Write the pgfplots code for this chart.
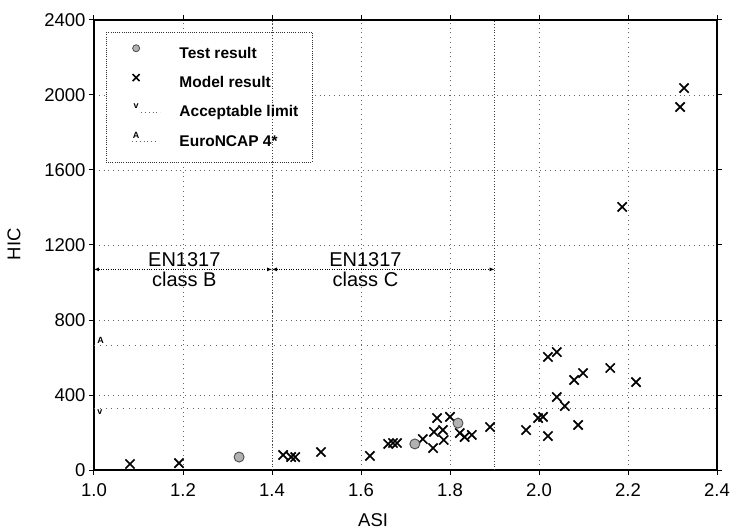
\documentclass[border=0pt]{standalone}
\usepackage{pgfplots}
\pgfplotsset{compat=1.18}
\usepackage{fontspec}
\setmainfont{Liberation Sans}
\usetikzlibrary{arrows.meta}

\begin{document}
\begin{tikzpicture}[x=1pt,y=1pt]
\useasboundingbox (0,0) rectangle (737,531);
\begin{axis}[
  at={(94pt,61pt)}, anchor=south west,
  scale only axis, width=623pt, height=450pt,
  xmin=1.0, xmax=2.4, ymin=0, ymax=2400,
  clip=false,
  xtick={1.0,1.2,1.4,1.6,1.8,2.0,2.2,2.4},
  ytick={0,400,800,1200,1600,2000,2400},
  /pgf/number format/assume math mode=true,
  xticklabel style={yshift=-5pt, /pgf/number format/.cd, fixed, fixed zerofill, precision=1},
  yticklabel style={/pgf/number format/.cd, fixed, precision=0, 1000 sep={}},
  tick label style={font=\fontsize{18.5}{18.5}\selectfont},
  tick align=outside, major tick length=5pt,
  xtick pos=both, ytick pos=both,
  axis line style={line width=1.3pt},
  major tick style={line width=1pt, black},
  grid=major,
  grid style={black!60, dash pattern=on 0.8pt off 4pt, line width=0.6pt},
  xlabel={ASI}, ylabel={HIC},
  label style={font=\fontsize{18.5}{18.5}\selectfont},
  xlabel style={at={(rel axis cs:0.448,0)}, anchor=center, yshift=-50pt},
  ylabel style={at={(rel axis cs:0,0.502)}, anchor=center, yshift=80pt},
  legend cell align=left,
  legend style={at={(rel axis cs:0.032,0.951)}, anchor=north west,
    draw=none, fill=none, inner sep=0pt, nodes={inner sep=0pt},
    column sep=19pt, row sep=12pt,
    font=\bfseries\fontsize{15.5}{15.5}\selectfont},
]
% legend frame (covers grid)
\draw[draw=black!80, fill=white, dash pattern=on 1pt off 1.2pt, line width=0.8pt]
  (rel axis cs:0.0193,0.973) rectangle (rel axis cs:0.350,0.684);

\addlegendimage{legend image code/.code={\path[draw=none,fill=none] (0pt,-1pt) rectangle (44pt,11pt);
  \draw[black!70, fill=gray!60, line width=0.8pt] (22pt,5pt) circle (3.5pt);}}
\addlegendentry{Test result}
\addlegendimage{legend image code/.code={\path[draw=none,fill=none] (0pt,-1pt) rectangle (44pt,11pt);
  \draw[black, line width=1.5pt] (18.5pt,1.5pt) -- (25.5pt,8.5pt) (18.5pt,8.5pt) -- (25.5pt,1.5pt);}}
\addlegendentry{Model result}
\addlegendimage{legend image code/.code={\path[draw=none,fill=none] (0pt,-1pt) rectangle (44pt,11pt);
  \node[black, font=\bfseries\fontsize{9}{9}\selectfont, inner sep=0pt, anchor=base] at (22pt,3pt) {v};
  \draw[black!60, dash pattern=on 0.8pt off 3pt, line width=0.7pt] (27pt,0pt) -- (46pt,0pt);}}
\addlegendentry{Acceptable limit}
\addlegendimage{legend image code/.code={\path[draw=none,fill=none] (0pt,-1pt) rectangle (44pt,11pt);
  \node[black, font=\bfseries\fontsize{9}{9}\selectfont, inner sep=0pt, anchor=base] at (22pt,3pt) {A};
  \draw[black!60, dash pattern=on 0.8pt off 3pt, line width=0.7pt] (18pt,0pt) -- (44pt,0pt);}}
\addlegendentry{EuroNCAP 4*}

% class limit lines
\addplot[forget plot, black!75, dash pattern=on 0.8pt off 2pt, line width=0.8pt] coordinates {(1.4,0) (1.4,2400)};
\addplot[forget plot, black!75, dash pattern=on 0.8pt off 2pt, line width=0.8pt] coordinates {(1.9,0) (1.9,2400)};

% acceptable limit and EuroNCAP lines
\addplot[forget plot, black!60, dash pattern=on 0.8pt off 5pt, line width=0.6pt] coordinates {(1.0,330) (2.4,330)}
  node[pos=0, anchor=north west, xshift=2pt, font=\bfseries\fontsize{9}{9}\selectfont, inner sep=1pt, black] {v};
\addplot[forget plot, black!60, dash pattern=on 0.8pt off 5pt, line width=0.6pt] coordinates {(1.0,667) (2.4,667)}
  node[pos=0, anchor=south west, xshift=2pt, font=\bfseries\fontsize{9}{9}\selectfont, inner sep=1pt, black] {A};

% EN1317 arrows
\addplot[forget plot, black, dash pattern=on 0.8pt off 1.6pt, line width=0.8pt, {Latex[length=5pt,width=4pt]}-{Latex[length=5pt,width=4pt]}] coordinates {(1.0,1070) (1.4,1070)};
\addplot[forget plot, black, dash pattern=on 0.8pt off 1.6pt, line width=0.8pt, {Latex[length=5pt,width=4pt]}-{Latex[length=5pt,width=4pt]}] coordinates {(1.4,1070) (1.9,1070)};
\node[anchor=south, inner sep=2pt, font=\fontsize{20}{20}\selectfont] at (axis cs:1.203,1070) {EN1317};
\node[anchor=north, inner sep=2pt, font=\fontsize{20}{20}\selectfont] at (axis cs:1.203,1070) {class B};
\node[anchor=south, inner sep=2pt, font=\fontsize{20}{20}\selectfont] at (axis cs:1.61,1070) {EN1317};
\node[anchor=north, inner sep=2pt, font=\fontsize{20}{20}\selectfont] at (axis cs:1.61,1070) {class C};

% Model results
\addplot[forget plot, only marks, mark=x, mark size=6.5pt, line width=1.7pt, black] coordinates {
(1.081,32) (1.191,37) (1.425,80) (1.443,69) (1.452,69) (1.510,96) (1.620,75)
(1.661,139) (1.672,144) (1.681,144)
(1.739,165) (1.762,117) (1.764,203) (1.771,277) (1.784,213) (1.786,160)
(1.800,283) (1.822,197) (1.833,176) (1.849,187) (1.890,229)
(1.971,213) (1.998,277) (2.009,283) (2.020,181) (2.020,603) (2.040,629)
(2.040,389) (2.058,341) (2.079,480) (2.099,517) (2.088,240) (2.160,544)
(2.218,469) (2.187,1403) (2.317,1936) (2.326,2037)
};

% Test results
\addplot[forget plot, only marks, mark=*, mark size=5pt, mark options={fill=gray!60, draw=black!70, line width=0.9pt}] coordinates {
(1.326,69) (1.721,139) (1.818,250)
};
\end{axis}
\end{tikzpicture}
\end{document}
